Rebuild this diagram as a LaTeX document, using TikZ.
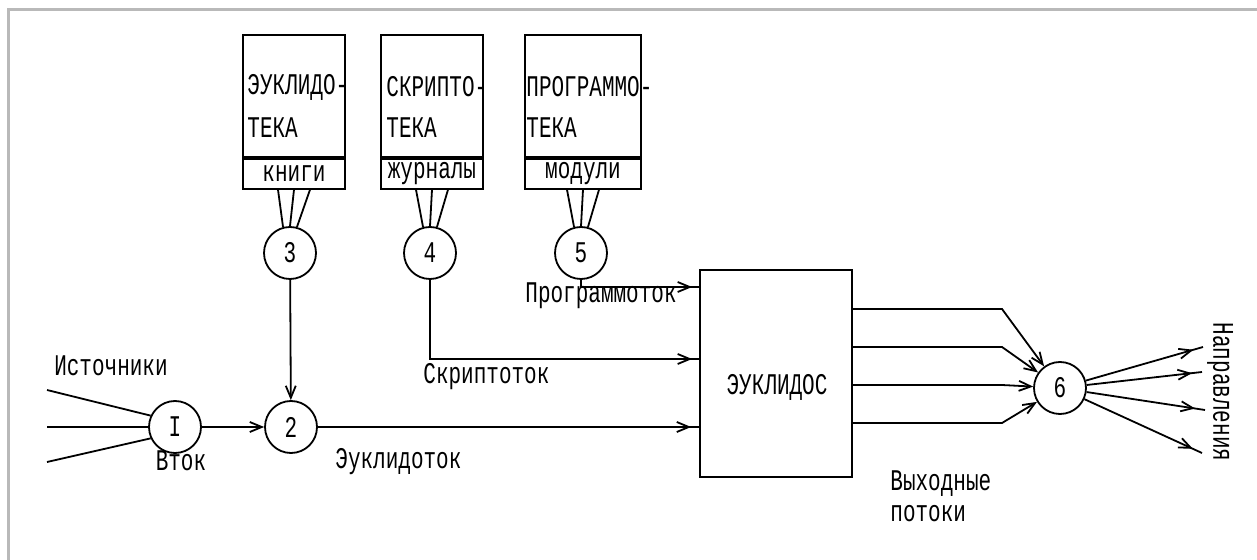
\documentclass[tikz,border=0pt]{standalone}
\usepackage{fontspec}
\setmainfont{Liberation Mono}[FakeStretch=0.7]
\usetikzlibrary{calc, positioning}
\usetikzlibrary{arrows.meta}
\usetikzlibrary{decorations.markings}

\tikzset{
  stage/.style={draw, circle, line width=0.9pt, minimum size=26pt, inner sep=0pt, font=\fontsize{15}{18}\selectfont},
  libbox/.style={draw, line width=0.9pt, minimum height=61pt, inner sep=0pt},
  strip/.style={draw, line width=0.9pt, minimum height=15pt, inner sep=0pt, font=\fontsize{15}{18}\selectfont},
  line/.style={line width=0.9pt},
  flow/.style={line width=0.9pt, -{Straight Barb[length=6pt,width=5pt]}},
  tipat/.style={line width=0.9pt,
    decoration={markings, mark=at position #1 with {\arrow{Straight Barb[length=6pt,width=5pt]}}},
    postaction=decorate},
  txt/.style={inner sep=0pt, font=\fontsize{15}{18}\selectfont},
}

\begin{document}
\begin{tikzpicture}[x=0.5pt, y=-0.5pt]
  \useasboundingbox (0,0) rectangle (1257,560);
  \draw[gray!55, line width=1.5pt] (8,560) -- (8,10) -- (1257,10);

  % libraries
  \node[libbox, minimum width=51pt] (lib1) at (294,96) {};
  \node[strip, minimum width=51pt, below=0pt of lib1] (str1) {книги};
  \node[libbox, minimum width=51pt] (lib2) at (432,96) {};
  \node[strip, minimum width=51pt, below=0pt of lib2] (str2) {журналы};
  \node[libbox, minimum width=58pt] (lib3) at (583,96) {};
  \node[strip, minimum width=58pt, below=0pt of lib3] (str3) {модули};

  \node[txt, anchor=west] (t1a) at (247,87) {ЭУКЛИДО-};
  \node[txt, anchor=west] (t1b) at (247,128) {ТЕКА};
  \node[txt, anchor=west] (t2a) at (386,87) {СКРИПТО-};
  \node[txt, anchor=west] (t2b) at (386,128) {ТЕКА};
  \node[txt, anchor=west] (t3a) at (526,87) {ПРОГРАММО-};
  \node[txt, anchor=west] (t3b) at (526,128) {ТЕКА};

  % stages
  \node[stage] (n1) at (175,427) {I};
  \node[stage] (n2) at (291,427) {2};
  \node[stage] (n3) at (290,253) {3};
  \node[stage] (n4) at (430,253) {4};
  \node[stage] (n5) at (581,253) {5};
  \node[stage] (n6) at (1060,388) {6};

  \node[draw, line width=0.9pt, minimum width=76pt, minimum height=103.5pt] (eu) at (776,373.5) {};
  \node[txt] (eulbl) at (777,387) {ЭУКЛИДОС};

  \foreach \dx/\a in {-16/105, 0/90, 16/75} {
    \draw[line] ($(str1.south)+(\dx,0)$) -- (n3.\a);
    \draw[line] ($(str2.south)+(\dx,0)$) -- (n4.\a);
    \draw[line] ($(str3.south)+(\dx,0)$) -- (n5.\a);
  }

  % inflow
  \foreach \i/\y/\a in {1/390/155, 2/427/180, 3/462/205} {
    \coordinate (src\i) at (47,\y);
    \draw[line] (src\i) -- (n1.\a);
  }
  \draw[flow] (n1) -- (n2);
  \draw[flow] (n3) -- (n2);

  \coordinate (inP) at (700,287);
  \coordinate (inS) at (700,359);
  \draw[tipat=-4pt] (n5.south) |- (inP);
  \draw[tipat=-4pt] (n4.south) |- (inS);
  \draw[tipat=-4pt] (n2) -- (n2 -| eu.west);

  % outflow
  \foreach \i/\y in {1/309, 2/347, 3/385, 4/423} {
    \coordinate (bend\i) at (1002,\y);
    \draw[flow] (eu.east |- bend\i) -- (bend\i) -- (n6);
  }
  \foreach \i/\x/\y in {1/1203/347, 2/1202/372, 3/1205/410, 4/1202/453} {
    \coordinate (dir\i) at (\x,\y);
    \draw[tipat=-5pt] (n6) -- (dir\i);
  }

  % labels
  \node[txt] (srclbl) at (111,366) {Источники};
  \node[txt] (vtok) at (181,461) {Вток};
  \node[txt, anchor=west] (etok) at (335,462) {Эуклидоток};
  \node[txt, anchor=west] (stok) at (423,377) {Скриптоток};
  \node[txt, anchor=west] (ptok) at (525,296) {Программоток};
  \node[txt, anchor=west] (outa) at (890,484) {Выходные};
  \node[txt, anchor=west] (outb) at (890,514) {потоки};
  \node[txt, rotate=-90] (dirlbl) at (1220,392) {Направления};
\end{tikzpicture}
\end{document}
